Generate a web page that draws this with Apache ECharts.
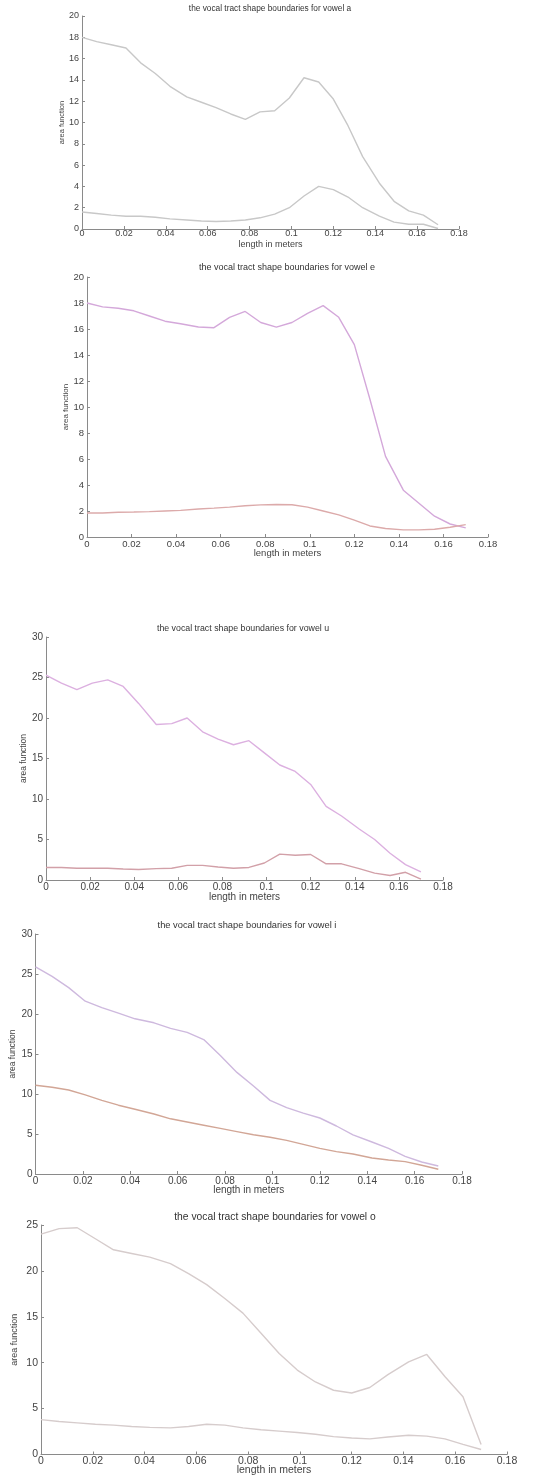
<!DOCTYPE html>
<html><head><meta charset="utf-8">
<script src="https://cdn.jsdelivr.net/npm/echarts@6/dist/echarts.min.js"></script>
<style>html,body{margin:0;padding:0;background:#fff}#c{width:549px;height:1477px}</style>
</head><body><div id="c"></div>
<script>
// positions along the tract (m)
const lengths = [0, 0.007, 0.014, 0.021, 0.028, 0.035, 0.042, 0.050, 0.057, 0.064, 0.071, 0.078, 0.085, 0.092, 0.099, 0.106, 0.113, 0.120, 0.127, 0.134, 0.142, 0.149, 0.156, 0.163, 0.170];

const aUpper = [18.0, 17.6, 17.3, 17.0, 15.6, 14.6, 13.4, 12.4, 11.9, 11.4, 10.8, 10.3, 11.0, 11.1, 12.3, 14.2, 13.8, 12.2, 9.7, 6.8, 4.3, 2.6, 1.7, 1.3, 0.4];
const aLower = [1.6, 1.45, 1.3, 1.2, 1.2, 1.1, 0.95, 0.85, 0.75, 0.7, 0.75, 0.85, 1.05, 1.4, 2.0, 3.1, 4.0, 3.7, 3.0, 2.0, 1.2, 0.65, 0.45, 0.45, 0.05];

const eUpper = [18.0, 17.7, 17.6, 17.4, 17.0, 16.6, 16.4, 16.15, 16.1, 16.9, 17.35, 16.5, 16.15, 16.5, 17.2, 17.8, 16.9, 14.8, 10.6, 6.2, 3.6, 2.6, 1.6, 1.0, 0.7];
const eLower = [1.85, 1.85, 1.9, 1.92, 1.95, 2.0, 2.05, 2.15, 2.22, 2.3, 2.4, 2.47, 2.5, 2.48, 2.3, 2.0, 1.7, 1.3, 0.85, 0.65, 0.55, 0.55, 0.6, 0.75, 0.95];

const uUpper = [25.3, 24.3, 23.5, 24.3, 24.7, 23.9, 21.8, 19.2, 19.3, 20.0, 18.3, 17.4, 16.7, 17.2, 15.7, 14.2, 13.4, 11.8, 9.1, 7.9, 6.3, 5.0, 3.3, 1.9, 1.0];
const uLower = [1.55, 1.55, 1.45, 1.45, 1.45, 1.35, 1.3, 1.4, 1.45, 1.8, 1.8, 1.6, 1.45, 1.55, 2.1, 3.2, 3.05, 3.15, 2.0, 2.0, 1.4, 0.85, 0.55, 0.95, 0.1];

const iUpper = [25.9, 24.7, 23.3, 21.6, 20.8, 20.1, 19.4, 18.9, 18.2, 17.7, 16.8, 14.8, 12.7, 11.0, 9.2, 8.3, 7.6, 7.0, 6.0, 4.9, 4.0, 3.2, 2.2, 1.5, 1.0];
const iLower = [11.1, 10.85, 10.5, 9.9, 9.2, 8.6, 8.1, 7.5, 6.9, 6.5, 6.1, 5.7, 5.3, 4.9, 4.6, 4.2, 3.7, 3.2, 2.8, 2.5, 2.0, 1.75, 1.55, 1.1, 0.6];

const oUpper = [24.0, 24.6, 24.7, 23.5, 22.3, 21.9, 21.5, 20.8, 19.7, 18.5, 17.0, 15.4, 13.2, 11.0, 9.2, 7.9, 7.0, 6.7, 7.3, 8.7, 10.1, 10.9, 8.5, 6.3, 1.1];
const oLower = [3.8, 3.6, 3.45, 3.3, 3.2, 3.05, 2.95, 2.9, 3.05, 3.3, 3.2, 2.9, 2.7, 2.55, 2.4, 2.2, 1.95, 1.8, 1.7, 1.9, 2.1, 2.0, 1.7, 1.1, 0.55];

const titles = [
  'the vocal tract shape boundaries for vowel a',
  'the vocal tract shape boundaries for vowel e',
  'the vocal tract shape boundaries for vowel u',
  'the vocal tract shape boundaries for vowel i',
  'the vocal tract shape boundaries for vowel o'
];
const xName = 'length in meters';
const yName = 'area function';
const xMax = 0.18, xStep = 0.02;
const yMaxes = [20, 20, 30, 30, 25];
const ySteps = [2, 2, 5, 5, 5];

const panels = [
  {up: aUpper, lo: aLower, g: {left: 82, top: 16, width: 377, height: 213}, tx: 270, ty: 10, tfs: 8.3, fs: 9, cu: '#c8c8c8', cl: '#c8c8c8', xg: 11, xm: 0.5, yg: 16},
  {up: eUpper, lo: eLower, g: {left: 87, top: 277, width: 401, height: 260}, tx: 287, ty: 269, tfs: 9, fs: 9.5, cu: '#d4a8da', cl: '#dcaaaa', xg: 11, xm: 2, yg: 17},
  {up: uUpper, lo: uLower, g: {left: 46, top: 637, width: 397, height: 243}, tx: 243, ty: 629, tfs: 8.8, fs: 10, cu: '#dcb0e0', cl: '#d2a0a8', xg: 12, xm: 2, yg: 18},
  {up: iUpper, lo: iLower, g: {left: 34, top: 934, width: 428, height: 240}, tx: 247, ty: 927, tfs: 9.3, fs: 10, cu: '#ceb9de', cl: '#d2a696', xg: 11.5, xm: 2, yg: 18.5},
  {up: oUpper, lo: oLower, g: {left: 41, top: 1225, width: 466, height: 231}, tx: 275, ty: 1218, tfs: 10.3, fs: 10.5, cu: '#d6cccc', cl: '#d6cccc', xg: 10.5, xm: 1, yg: 22}
];

const pairs = arr => lengths.map((x, k) => [x, arr[k]]);
const axisColor = '#8a8a8a';
const labelColor = '#444';
const ff = 'Liberation Sans, Arial, sans-serif';

const option = {
  animation: false,
  backgroundColor: '#fff',
  title: [], grid: [], xAxis: [], yAxis: [], series: []
};

panels.forEach((p, idx) => {
  option.title.push({
    text: titles[idx], left: p.tx, top: p.ty - p.tfs / 2 - 1, textAlign: 'center',
    textStyle: {fontSize: p.tfs, fontWeight: 'normal', color: '#333', fontFamily: ff},
    padding: 0
  });
  option.grid.push(Object.assign({containLabel: false}, p.g));
  option.xAxis.push({
    type: 'value', gridIndex: idx, min: 0, max: xMax, interval: xStep,
    name: xName, nameLocation: 'middle', nameGap: p.xg, nameMoveOverlap: false,
    nameTextStyle: {fontSize: p.fs, color: labelColor, fontFamily: ff},
    axisLine: {show: true, onZero: false, lineStyle: {color: axisColor, width: 1}},
    axisTick: {show: true, inside: true, length: 3, lineStyle: {color: axisColor}},
    axisLabel: {fontSize: p.fs, color: labelColor, margin: p.xm, fontFamily: ff},
    splitLine: {show: false}
  });
  option.yAxis.push({
    type: 'value', gridIndex: idx, min: 0, max: yMaxes[idx], interval: ySteps[idx],
    name: yName, nameLocation: 'middle', nameGap: p.yg, nameRotate: 90, nameMoveOverlap: false,
    nameTextStyle: {fontSize: p.fs - 1.5, color: labelColor, fontFamily: ff},
    axisLine: {show: true, onZero: false, lineStyle: {color: axisColor, width: 1}},
    axisTick: {show: true, inside: true, length: 3, lineStyle: {color: axisColor}},
    axisLabel: {fontSize: p.fs, color: labelColor, margin: 3, fontFamily: ff},
    splitLine: {show: false}
  });
  option.series.push({
    type: 'line', xAxisIndex: idx, yAxisIndex: idx, data: pairs(p.up),
    showSymbol: false, symbol: 'none', lineStyle: {color: p.cu, width: 1.4}, silent: true
  });
  option.series.push({
    type: 'line', xAxisIndex: idx, yAxisIndex: idx, data: pairs(p.lo),
    showSymbol: false, symbol: 'none', lineStyle: {color: p.cl, width: 1.4}, silent: true
  });
});

const chart = echarts.init(document.getElementById('c'), null, {renderer: 'canvas'});
chart.setOption(option);
</script>
</body></html>
